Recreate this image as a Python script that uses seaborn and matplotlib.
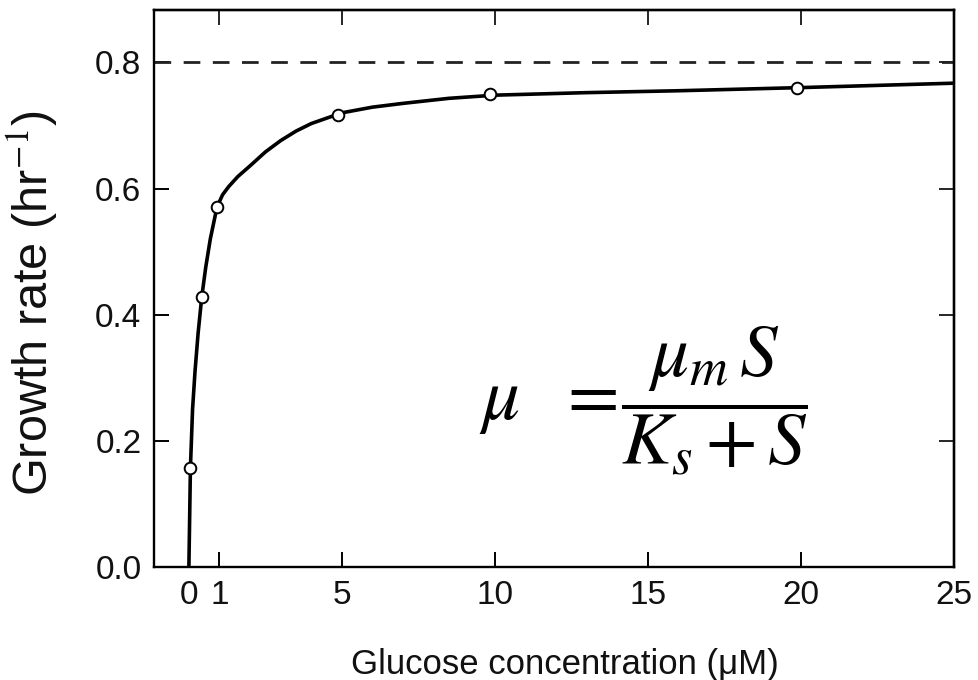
import matplotlib
matplotlib.use("Agg")
import matplotlib.pyplot as plt
import seaborn as sns
import pandas as pd

# measured data points (glucose µM, growth rate hr^-1)
point_conc = [0.05, 0.42, 0.92, 4.87, 9.84, 19.87]
point_rate = [0.157, 0.428, 0.571, 0.716, 0.750, 0.759]

# fitted curve
curve_conc = [0.0, 0.05, 0.12, 0.2, 0.3, 0.42, 0.55, 0.7, 0.92, 1.1, 1.3, 1.6, 2.0, 2.5, 3.0,
              3.5, 4.0, 5.0, 6.0, 7.0, 8.5, 10.0, 13.0, 16.0, 20.0, 25.0]
curve_rate = [0.0, 0.157, 0.25, 0.31, 0.37, 0.428, 0.475, 0.52, 0.571, 0.590, 0.603, 0.619, 0.636,
              0.658, 0.676, 0.691, 0.703, 0.720, 0.729, 0.735, 0.743, 0.748, 0.752, 0.755, 0.760, 0.767]

mu_max = 0.8
x_ticks = [0, 1, 5, 10, 15, 20, 25]
y_ticks = [0.0, 0.2, 0.4, 0.6, 0.8]

sns.set_style("ticks")
plt.rcParams['font.family'] = ['Liberation Sans', 'DejaVu Sans']
plt.rcParams['mathtext.fontset'] = 'stix'

fig = plt.figure(figsize=(9.79, 6.8), dpi=100)
ax = fig.add_axes([154/979, 1-567/680, 800/979, 557/680])

curve = pd.DataFrame({"conc": curve_conc, "rate": curve_rate})
pts = pd.DataFrame({"conc": point_conc, "rate": point_rate})

ax.axhline(mu_max, color='#222222', lw=2.0, ls=(0, (6, 4.5)), zorder=1)
sns.lineplot(data=curve, x="conc", y="rate", ax=ax, color='black', lw=2.6, zorder=2, sort=False)
sns.scatterplot(data=pts, x="conc", y="rate", ax=ax, s=70, facecolor='white',
                edgecolor='black', linewidth=1.4, zorder=3)

ax.set_xlim(-1.14, 25)
ax.set_ylim(0, 0.883)
ax.set_xticks(x_ticks)
ax.set_xticklabels([str(v) for v in x_ticks])
ax.set_yticks(y_ticks)
ax.set_yticklabels([f"{v:.1f}" for v in y_ticks])
ax.tick_params(direction='in', length=11, width=1.4, labelsize=24, pad=9,
               color='black', labelcolor='#111111')

for s in ax.spines.values():
    s.set_linewidth(1.7)
    s.set_color('black')

top = ax.secondary_xaxis('top')
top.set_xticks([1, 5, 10, 15, 20])
top.tick_params(direction='in', length=11, width=1.4, labeltop=False)
top.spines['top'].set_linewidth(1.7)
right = ax.secondary_yaxis('right')
right.set_yticks([0.2, 0.4, 0.6, 0.8])
right.tick_params(direction='in', length=11, width=1.4, labelright=False)
right.spines['right'].set_linewidth(1.7)

ax.set_xlabel("Glucose concentration (μM)", fontsize=25, color='#111111')
ax.set_ylabel("Growth rate (hr$^{-1}$)", fontsize=35, color='#111111')
ax.xaxis.set_label_coords(0.514, -0.145)
ax.yaxis.set_label_coords(-0.117, 0.474)

ax.text(0.612, 0.298, r'$\mu\ \ =\!\dfrac{\mu_m\,S}{K_s+S}$', transform=ax.transAxes,
        fontsize=54, ha='center', va='center', color='black')

fig.savefig("out.png", dpi=100)
